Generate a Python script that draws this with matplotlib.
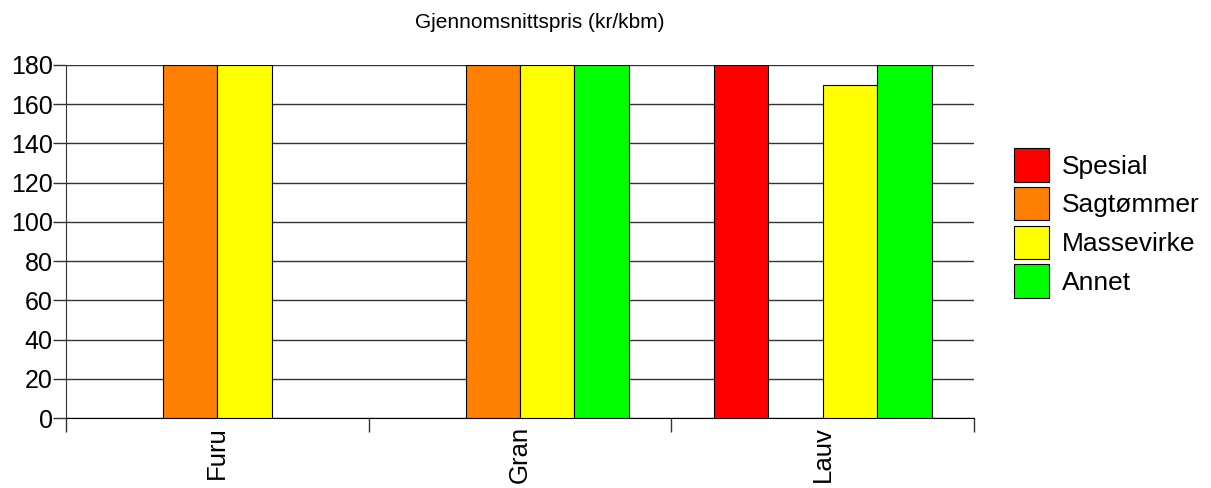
import matplotlib
matplotlib.use("Agg")
import matplotlib.pyplot as plt
import numpy as np
from matplotlib.patches import Patch

categories = ["Furu", "Gran", "Lauv"]
series = ["Spesial", "Sagtømmer", "Massevirke", "Annet"]
colors = ["#ff0000", "#ff8000", "#ffff00", "#00ff00"]
spesial = [0, 0, 180]
sagtommer = [180, 180, 0]
massevirke = [180, 180, 170]
annet = [0, 180, 180]
values = [spesial, sagtommer, massevirke, annet]
yticks = [0, 20, 40, 60, 80, 100, 120, 140, 160, 180]

plt.rcParams['font.family'] = ['Liberation Sans', 'DejaVu Sans']
fig = plt.figure(figsize=(12.11, 4.88), dpi=100)
ax = fig.add_axes([66/1211, 1-418/488, (974-66)/1211, (418-65)/488])

x = np.arange(len(categories))
w = 0.18
for i, (s, vals, c) in enumerate(zip(series, values, colors)):
    off = (i - 1.5) * w
    for xi, v in zip(x, vals):
        if v > 0:
            ax.bar(xi + off, v, width=w, color=c, edgecolor="black", linewidth=0.8, zorder=3)

ax.set_xlim(-0.5, len(categories) - 0.5)
ax.set_ylim(0, 180)
ax.set_yticks(yticks)
ax.yaxis.grid(True, color="#333333", linewidth=1.0, zorder=0)
ax.tick_params(axis='y', labelsize=18, length=9.5, width=1, color="#333333", pad=0)
ax.set_xticks(x)
ax.set_xticklabels(categories, rotation=90, fontsize=18.5)
ax.tick_params(axis='x', which='major', length=0, pad=6)
ax.set_xticks(np.arange(-0.5, len(categories), 1.0), minor=True)
ax.tick_params(axis='x', which='minor', length=10, width=1, color="#333333")
for sp in ["top", "right"]:
    ax.spines[sp].set_visible(False)
ax.spines["left"].set_color("#333333")
ax.spines["bottom"].set_color("black")

fig.text(540/1211, 1-22/488, "Gjennomsnittspris (kr/kbm)", ha="center", va="center", fontsize=15)

handles = [Patch(facecolor=c, edgecolor="black", linewidth=0.8, label=s) for s, c in zip(series, colors)]
fig.legend(handles=handles, loc="center left", bbox_to_anchor=(1003/1211, 1-223/488), frameon=False,
           fontsize=19, handlelength=1.35, handleheight=1.58, handletextpad=0.49, labelspacing=0.19,
           borderaxespad=0)

fig.savefig("out.png", dpi=100)
